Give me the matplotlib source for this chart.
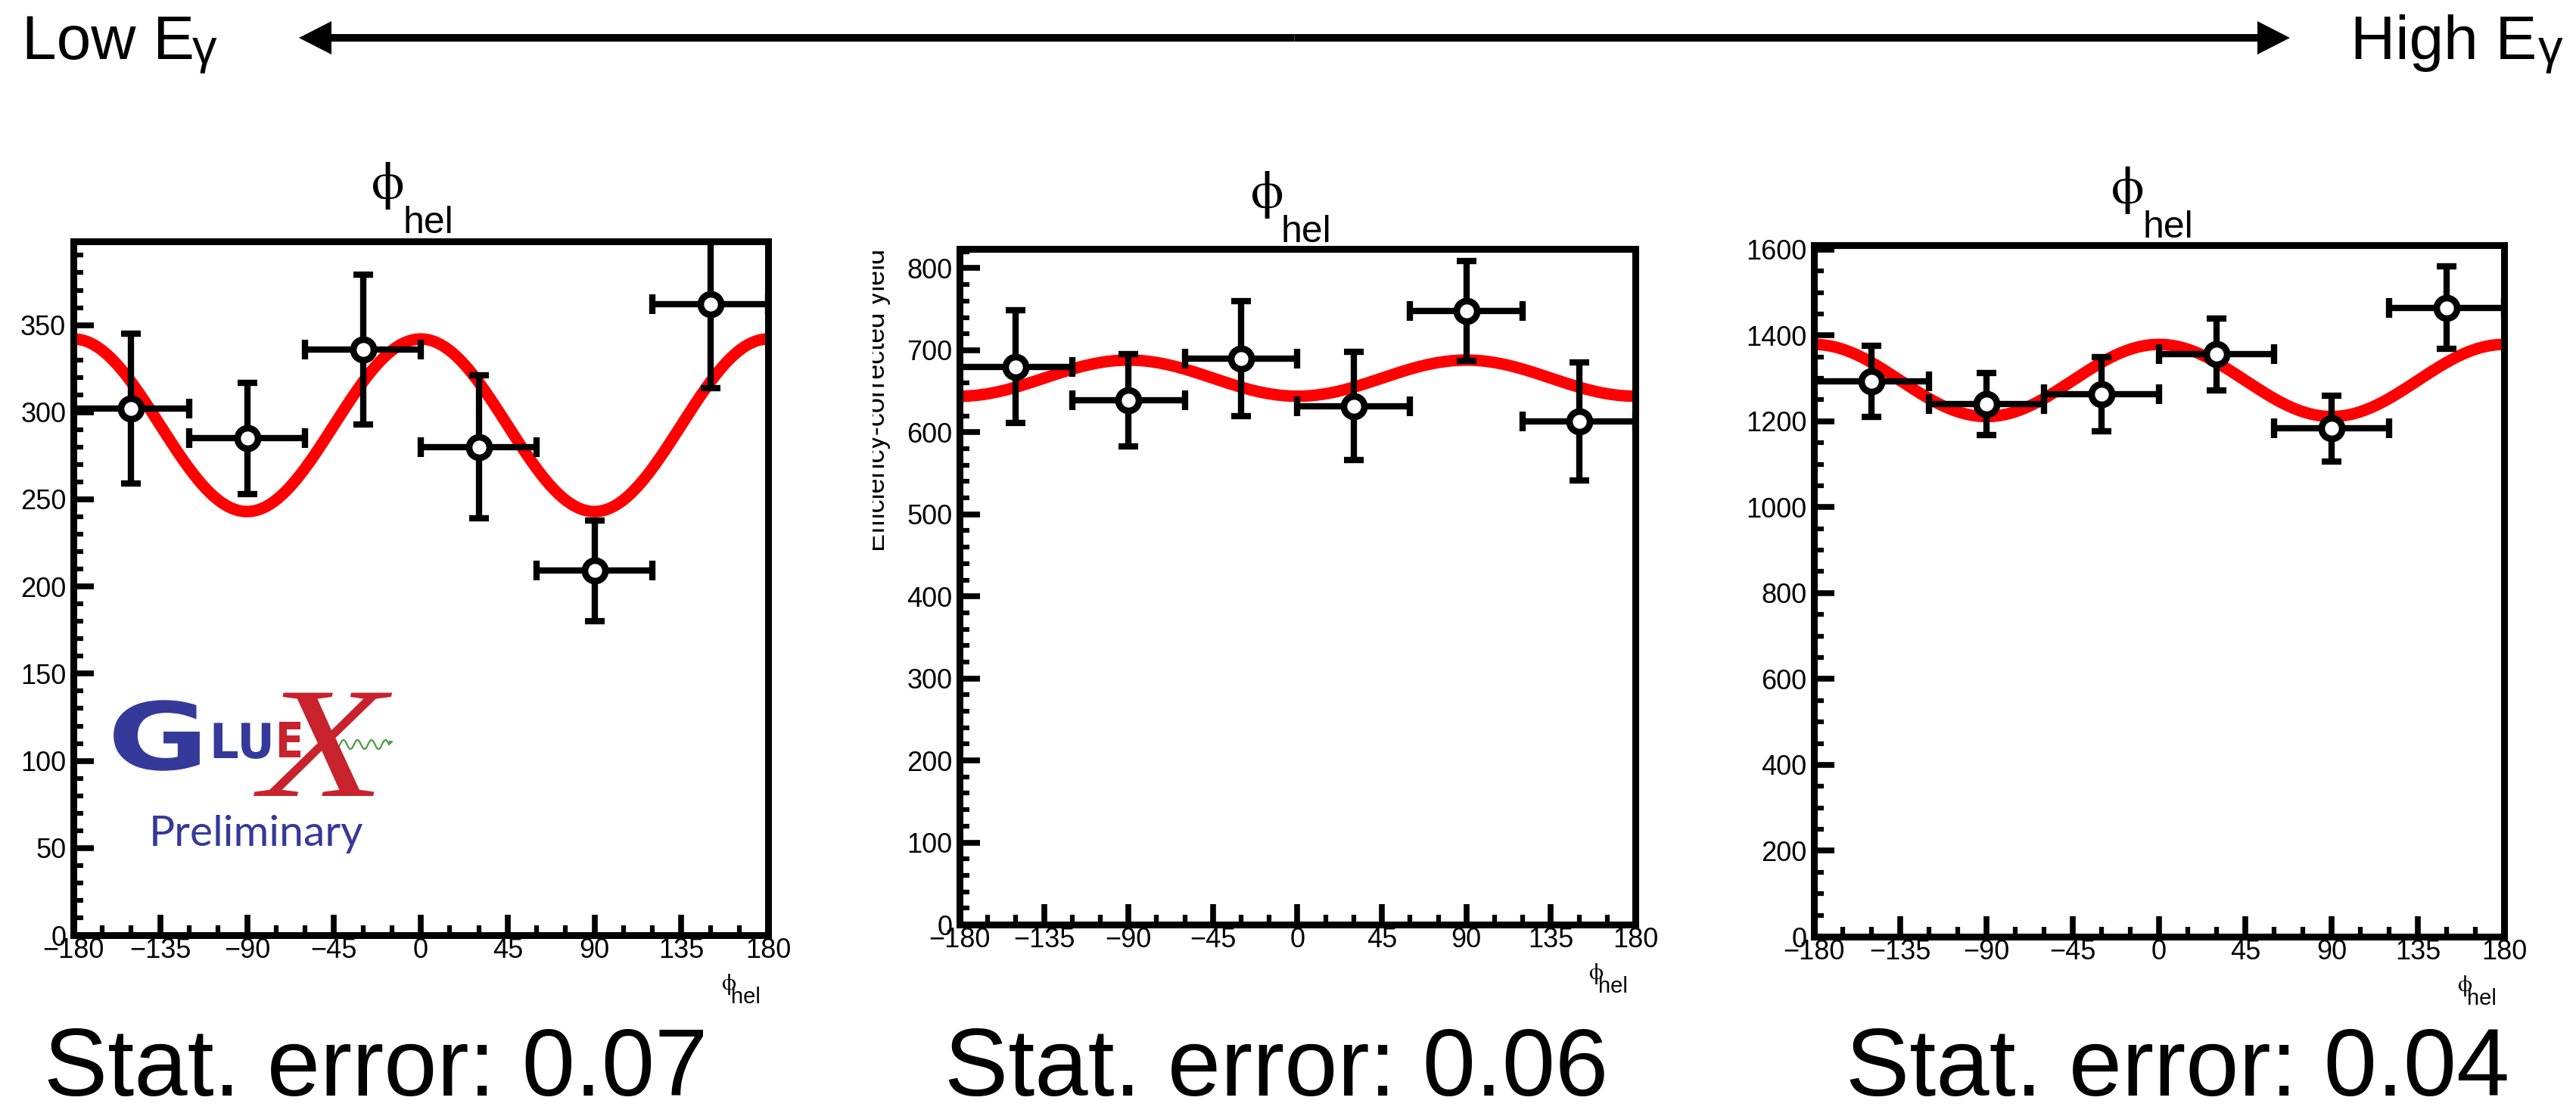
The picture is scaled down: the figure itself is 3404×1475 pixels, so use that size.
import numpy as np
import matplotlib
matplotlib.use("Agg")
import matplotlib.pyplot as plt
from matplotlib.ticker import MultipleLocator, FixedLocator
from matplotlib.transforms import Bbox, TransformedBbox, Affine2D
from matplotlib.patches import FancyArrow
from matplotlib import patheffects

plt.rcParams['font.family'] = ['Liberation Sans', 'DejaVu Sans']

W, H, DPI = 3405, 1475, 100

# ---------------- data ----------------
phi_bins = [-150, -90, -30, 30, 90, 150]
phi_bin_half = [30, 30, 30, 30, 30, 30]
phi_ticks = [-180, -135, -90, -45, 0, 45, 90, 135, 180]

yield_low = [302, 285, 336, 280, 209, 362]
err_low = [43, 32, 43, 41, 29, 48]
yield_mid = [680, 639, 690, 632, 748, 613]
err_mid = [69, 56, 70, 66, 61, 72]
yield_high = [1293, 1240, 1263, 1356, 1183, 1464]
err_high = [83, 72, 87, 84, 77, 96]

# fit: const + amp * cos(2 phi)
fit_low = [292.5, 49.5]
fit_mid = [666.0, -22.0]
fit_high = [1295.0, 84.0]

y_top = [398, 823.5, 1611]
y_major_step = [50, 100, 200]
y_minor_step = [10, 20, 50]
stat_errors = ["0.07", "0.06", "0.04"]


class Stretch(patheffects.AbstractPathEffect):
    """Scale glyph outlines about the text origin."""

    def __init__(self, sx=1.0, sy=1.0):
        super().__init__()
        self._sx, self._sy = sx, sy

    def draw_path(self, renderer, gc, tpath, affine, rgbFace=None):
        m = affine.get_matrix()
        ox, oy = m[0, 2], m[1, 2]
        scaled = affine + Affine2D().translate(-ox, -oy).scale(self._sx, self._sy).translate(ox, oy)
        renderer.draw_path(gc, tpath, scaled, rgbFace)


fig = plt.figure(figsize=(W / DPI, H / DPI), dpi=DPI)


def add_px_axes(l, t, r, b):
    return fig.add_axes([l / W, 1 - b / H, (r - l) / W, (b - t) / H])


panels = [
    dict(box=(97, 319, 1015, 1236), y=yield_low, e=err_low, fit=fit_low,
         ymax=y_top[0], major=y_major_step[0], minor=y_minor_step[0]),
    dict(box=(1268, 329, 2161, 1222), y=yield_mid, e=err_mid, fit=fit_mid,
         ymax=y_top[1], major=y_major_step[1], minor=y_minor_step[1]),
    dict(box=(2397, 323.5, 3309, 1238), y=yield_high, e=err_high, fit=fit_high,
         ymax=y_top[2], major=y_major_step[2], minor=y_minor_step[2]),
]

phi_curve = np.linspace(-180, 180, 721)
for p in panels:
    ax = add_px_axes(*p['box'])
    ax.set_xlim(-180, 180)
    ax.set_ylim(0, p['ymax'])
    c0, c2 = p['fit']
    ax.plot(phi_curve, c0 + c2 * np.cos(np.radians(2 * phi_curve)),
            color='#ff0000', lw=11, solid_capstyle='butt', zorder=2)
    ax.errorbar(phi_bins, p['y'], xerr=phi_bin_half, yerr=p['e'], fmt='none',
                ecolor='black', elinewidth=6, capsize=9.5, capthick=6, zorder=3)
    ax.plot(phi_bins, p['y'], 'o', ms=19.5, mfc='white', mec='black', mew=6.3, zorder=4)

    ax.xaxis.set_major_locator(FixedLocator(phi_ticks))
    ax.xaxis.set_minor_locator(MultipleLocator(15))
    ax.yaxis.set_major_locator(MultipleLocator(p['major']))
    ax.yaxis.set_minor_locator(MultipleLocator(p['minor']))
    ax.tick_params(which='major', direction='in', length=19.5, width=5.5,
                   labelsize=26, color='black')
    ax.tick_params(which='minor', direction='in', length=9.5, width=4.5)
    ax.tick_params(axis='y', which='major', pad=7)
    ax.tick_params(axis='x', which='major', pad=2)
    for s in ax.spines.values():
        s.set_linewidth(6.5)

# ---------------- overlay in pixel coordinates ----------------
ov = fig.add_axes([0, 0, 1, 1])
ov.set_xlim(0, W)
ov.set_ylim(H, 0)
ov.axis('off')
ov.patch.set_alpha(0)

phi_font = ['STIXGeneral', 'DejaVu Serif']

# panel titles
for phi_x, hel_x, hel_base in [(491, 533, 308), (1653, 1693, 320), (2790, 2832, 314)]:
    ov.text(phi_x, hel_base - 46, "ϕ", family=phi_font, fontsize=50, ha='left', va='baseline')
    ov.text(hel_x, hel_base, "hel", fontsize=36, ha='left', va='baseline')

# x-axis titles
for p in panels:
    l, t, r, b = p['box']
    ov.text(r - 62, b + 72, "ϕ", family=phi_font, fontsize=22, ha='left', va='baseline')
    ov.text(r - 10, b + 90, "hel", fontsize=21, ha='right', va='baseline')

# y-axis title of the middle panel (cut at the panel edge)
ylab = ov.text(1169, 329, "Efficiency-corrected yield", fontsize=26, rotation=90,
               rotation_mode='anchor', ha='right', va='baseline', clip_on=True)
ylab.set_clip_box(TransformedBbox(Bbox.from_extents(1153 / W, 0, 1, 1), fig.transFigure))

# photon energy arrow
mid = (395 + 3026) / 2
for end in (395, 3026):
    ov.add_patch(FancyArrow(mid, 50, end - mid, 0, width=10, head_width=44, head_length=43,
                            length_includes_head=True, color='black', lw=0))
ov.text(29, 78, "Low E", fontsize=59, ha='left', va='baseline')
ov.text(254, 84, "γ", fontsize=47, ha='left', va='baseline')
ov.text(3106, 78, "High E", fontsize=59, ha='left', va='baseline')
ov.text(3354, 84, "γ", fontsize=47, ha='left', va='baseline')

# statistical error labels
for x0, s in zip([58, 1248, 2439], stat_errors):
    ov.text(x0, 1448, "Stat. error: " + s, fontsize=91, ha='left', va='baseline')

# GlueX logo
blue = '#35399a'
red = '#c8222d'
ov.text(142, 1017, "G", fontsize=89, fontweight='bold', family=['DejaVu Sans'], color=blue,
        ha='left', va='baseline', path_effects=[Stretch(1.32)])
ov.text(277, 1002, "LU", fontsize=46, fontweight='bold', family=['DejaVu Sans'], color=blue,
        ha='left', va='baseline', path_effects=[Stretch(0.95)])
ov.text(364, 1001, "E", fontsize=46, fontweight='bold', family=['DejaVu Sans'], color=red,
        ha='left', va='baseline', path_effects=[Stretch(0.85)])
ov.text(344, 1052, "X", fontsize=150, style='italic', family=['Liberation Serif', 'DejaVu Serif'],
        color=red, ha='left', va='baseline', path_effects=[Stretch(1.3)])
wx = np.linspace(440, 514, 120)
ov.plot(wx, 984 + 6 * np.sin((wx - 440) / 74 * 2 * np.pi * 4), color='#4a9a45', lw=1.6)
ov.add_patch(FancyArrow(512, 982, 8, -2, width=0.5, head_width=6, head_length=6,
                        length_includes_head=True, color='#4a9a45', lw=0))
ov.text(197, 1118, "Preliminary", fontsize=41, family=['Lato', 'Open Sans', 'DejaVu Sans'],
        color=blue, ha='left', va='baseline')

fig.savefig("out.png", dpi=DPI)
